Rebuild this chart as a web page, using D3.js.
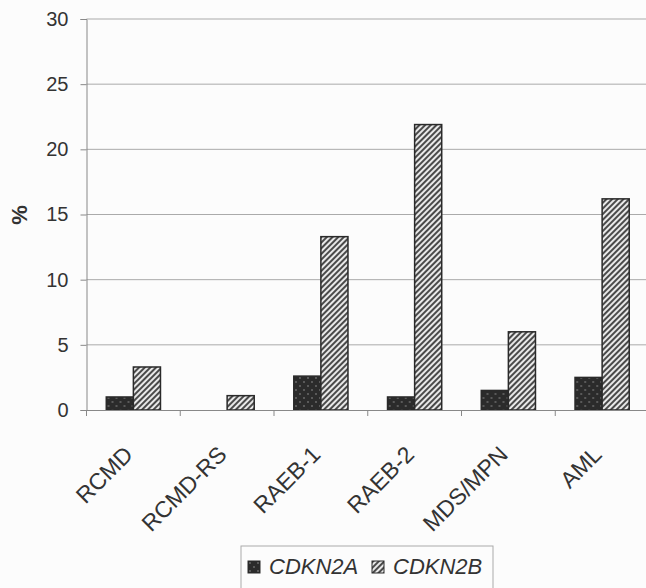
<!DOCTYPE html>
<html>
<head>
<meta charset="utf-8">
<script src="https://cdn.jsdelivr.net/npm/d3@7"></script>
<style>
  body { margin: 0; background: #fcfcfc; }
  svg { display: block; font-family: "Liberation Sans", Arial, sans-serif; }
</style>
</head>
<body>
<svg id="chart" width="646" height="588"></svg>
<script>
var categories = ["RCMD", "RCMD-RS", "RAEB-1", "RAEB-2", "MDS/MPN", "AML"];
var seriesNames = ["CDKN2A", "CDKN2B"];
var cdkn2a = [1.0, 0, 2.6, 1.0, 1.5, 2.5];
var cdkn2b = [3.3, 1.1, 13.3, 21.9, 6.0, 16.2];
var yTicks = [0, 5, 10, 15, 20, 25, 30];

var svg = d3.select("#chart");
var plotLeft = 86.5, plotRight = 649, plotTop = 19, plotBottom = 410;

var x = d3.scaleBand().domain(categories).range([plotLeft, plotRight]).padding(0);
var xs = d3.scaleBand().domain(seriesNames).range([0, x.bandwidth()]).paddingInner(0).paddingOuter(0.73);
var y = d3.scaleLinear().domain([0, 30]).range([plotBottom, plotTop]);

// patterns
var defs = svg.append("defs");
var dots = defs.append("pattern").attr("id", "dots")
    .attr("patternUnits", "userSpaceOnUse").attr("width", 8).attr("height", 8);
dots.append("rect").attr("width", 8).attr("height", 8).attr("fill", "#2b2b2b");
dots.append("circle").attr("cx", 2).attr("cy", 2).attr("r", 0.7).attr("fill", "#aaa");
dots.append("circle").attr("cx", 6).attr("cy", 6).attr("r", 0.7).attr("fill", "#aaa");

var hatch = defs.append("pattern").attr("id", "hatch")
    .attr("patternUnits", "userSpaceOnUse").attr("width", 4).attr("height", 4)
    .attr("patternTransform", "rotate(45)");
hatch.append("rect").attr("width", 4).attr("height", 4).attr("fill", "#e8e8e8");
hatch.append("rect").attr("width", 2).attr("height", 4).attr("fill", "#4a4a4a");

// gridlines
svg.append("g")
  .selectAll("line")
  .data(yTicks.filter(d => d > 0))
  .enter()
  .append("line")
  .attr("x1", plotLeft).attr("x2", plotRight)
  .attr("y1", d => y(d)).attr("y2", d => y(d))
  .attr("stroke", "#aaa").attr("stroke-width", 1);

// y axis
var yAxis = svg.append("g")
  .attr("transform", "translate(" + plotLeft + ",0)")
  .call(d3.axisLeft(y).tickValues(yTicks).tickSize(6).tickPadding(12));
yAxis.select(".domain").attr("stroke", "#888");
yAxis.selectAll(".tick line").attr("stroke", "#888");
yAxis.selectAll("text").attr("font-size", 20).attr("fill", "#333")
  .attr("font-family", "Liberation Sans, Arial, sans-serif");

// bars
var groups = svg.append("g")
  .selectAll("g")
  .data(categories)
  .enter()
  .append("g")
  .attr("transform", d => "translate(" + x(d) + ",0)");

groups.selectAll("rect")
  .data((d, i) => [
    { key: "CDKN2A", value: cdkn2a[i] },
    { key: "CDKN2B", value: cdkn2b[i] }
  ].filter(e => e.value > 0))
  .enter()
  .append("rect")
  .attr("x", d => xs(d.key))
  .attr("y", d => y(d.value))
  .attr("width", xs.bandwidth())
  .attr("height", d => y(0) - y(d.value))
  .attr("fill", d => d.key == "CDKN2A" ? "url(#dots)" : "url(#hatch)")
  .attr("stroke", "#2a2a2a")
  .attr("stroke-width", 1.5);

// x axis
var xAxis = svg.append("g")
  .attr("transform", "translate(0," + plotBottom + ")")
  .call(d3.axisBottom(x).tickSize(0).tickFormat(""));
xAxis.select(".domain").attr("stroke", "#888");

svg.append("g")
  .selectAll("line")
  .data(categories)
  .enter()
  .append("line")
  .attr("x1", d => x(d)).attr("x2", d => x(d))
  .attr("y1", plotBottom).attr("y2", plotBottom + 6)
  .attr("stroke", "#888");

svg.append("g")
  .selectAll("text")
  .data(categories)
  .enter()
  .append("text")
  .attr("transform", d => "translate(" + (x(d) + x.bandwidth() / 2 + 1) + "," + (plotBottom + 46) + ") rotate(-45)")
  .attr("text-anchor", "end")
  .attr("font-size", 23)
  .attr("fill", "#333")
  .text(d => d);

// y label
svg.append("text")
  .attr("transform", "translate(27,215) rotate(-90)")
  .attr("text-anchor", "middle")
  .attr("font-size", 22)
  .attr("font-weight", "bold")
  .attr("fill", "#333")
  .text("%");

// legend
var lg = svg.append("g");
lg.append("rect")
  .attr("x", 241).attr("y", 546).attr("width", 252).attr("height", 60)
  .attr("fill", "#fcfcfc").attr("stroke", "#aaa");

var legendX = [248, 372];
var leg = lg.selectAll("g")
  .data(seriesNames)
  .enter()
  .append("g")
  .attr("transform", (d, i) => "translate(" + legendX[i] + ",561)");
leg.append("rect")
  .attr("width", 12).attr("height", 12)
  .attr("fill", (d, i) => i == 0 ? "url(#dots)" : "url(#hatch)")
  .attr("stroke", "#2a2a2a").attr("stroke-width", 1);
leg.append("text")
  .attr("x", 21).attr("y", 12.5)
  .attr("font-size", 22)
  .attr("font-style", "italic")
  .attr("fill", "#333")
  .text(d => d);
</script>
</body>
</html>
